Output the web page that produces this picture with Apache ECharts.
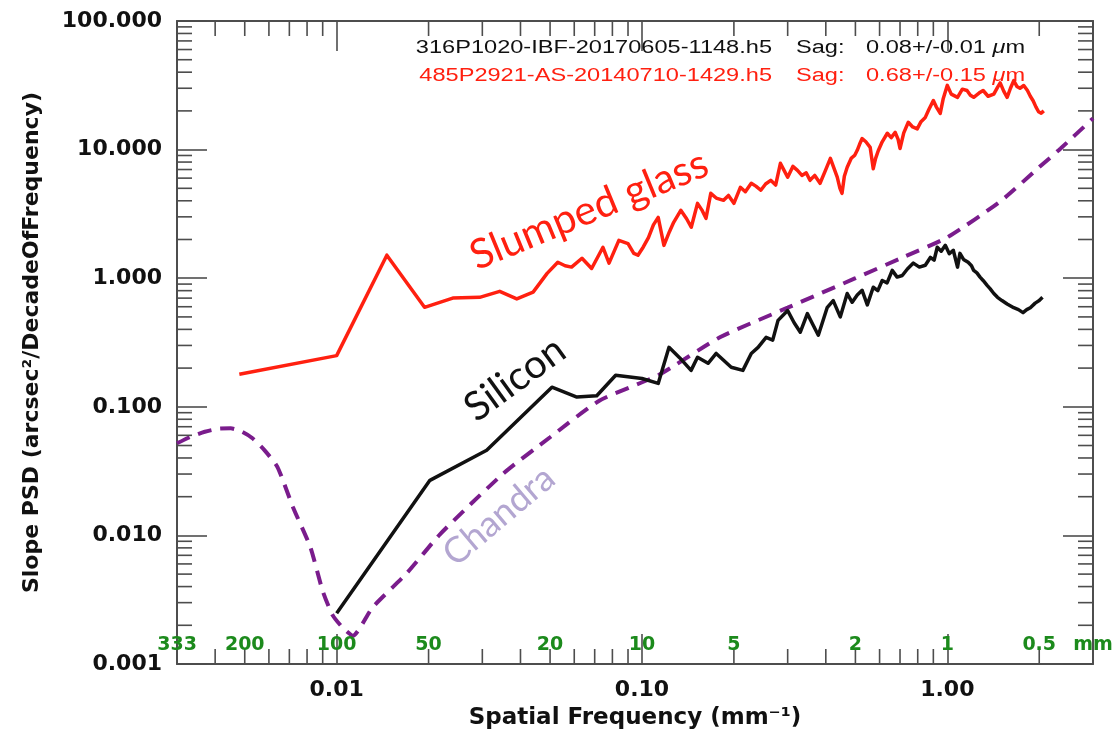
<!DOCTYPE html>
<html>
<head>
<meta charset="utf-8">
<title>Slope PSD vs Spatial Frequency</title>
<script src="https://cdn.jsdelivr.net/npm/echarts@6/dist/echarts.min.js"></script>
<style>
  html, body { margin: 0; padding: 0; background: #ffffff; }
  #chart { width: 1116px; height: 732px; }
</style>
</head>
<body>
<div id="chart"></div>
<script>
// Slope PSD curves: [spatial frequency (mm^-1), slope PSD (arcsec^2 / decade)]
const glassPsd = [
  [0.0048, 0.179], [0.0100, 0.25], [0.0146, 1.51], [0.0194, 0.594], [0.024, 0.70],
  [0.0294, 0.71], [0.0342, 0.79], [0.0389, 0.69], [0.044, 0.78], [0.0489, 1.09],
  [0.053, 1.33], [0.056, 1.25], [0.0588, 1.22], [0.0636, 1.43], [0.0684, 1.19],
  [0.0745, 1.74], [0.078, 1.31], [0.084, 1.97], [0.09, 1.86], [0.094, 1.56],
  [0.097, 1.51], [0.101, 1.75], [0.105, 2.07], [0.109, 2.6], [0.113, 2.97],
  [0.118, 1.8], [0.123, 2.3], [0.127, 2.72], [0.134, 3.37], [0.140, 2.9],
  [0.145, 2.49], [0.152, 3.82], [0.157, 3.4], [0.162, 2.92], [0.168, 4.57],
  [0.175, 4.2], [0.185, 4.03], [0.192, 4.4], [0.200, 3.82], [0.210, 5.09],
  [0.218, 4.7], [0.228, 5.47], [0.236, 5.2], [0.245, 4.83], [0.254, 5.4],
  [0.264, 5.77], [0.274, 5.3], [0.284, 7.82], [0.292, 6.9], [0.300, 6.1],
  [0.312, 7.4], [0.323, 6.9], [0.334, 6.3], [0.345, 6.6], [0.355, 5.77],
  [0.368, 6.3], [0.383, 5.47], [0.398, 6.8], [0.414, 8.55], [0.425, 7.2],
  [0.436, 6.1], [0.445, 5.0], [0.452, 4.57], [0.460, 6.2], [0.470, 7.28],
  [0.485, 8.6], [0.497, 9.0], [0.507, 9.88], [0.516, 11.0], [0.526, 12.2],
  [0.541, 11.5], [0.559, 10.4], [0.572, 7.1], [0.582, 8.5], [0.594, 9.8],
  [0.612, 11.5], [0.636, 13.4], [0.655, 12.4], [0.675, 13.6], [0.690, 12.0],
  [0.700, 10.2], [0.720, 13.5], [0.745, 16.3], [0.770, 15.0], [0.797, 14.5],
  [0.820, 16.5], [0.847, 17.8], [0.870, 20.5], [0.900, 24.1], [0.920, 21.5],
  [0.948, 19.1], [0.970, 25.0], [1.00, 31.6], [1.03, 27.0], [1.08, 25.5],
  [1.12, 29.5], [1.16, 28.8], [1.19, 26.5], [1.22, 25.5], [1.27, 27.5],
  [1.31, 28.8], [1.36, 26.0], [1.42, 27.0], [1.46, 30.5], [1.49, 33.0],
  [1.53, 28.5], [1.57, 25.5], [1.61, 30.0], [1.65, 34.4], [1.69, 31.0],
  [1.73, 30.0], [1.78, 31.5], [1.83, 28.8], [1.87, 26.0], [1.91, 24.0],
  [1.95, 21.5], [1.99, 19.7], [2.03, 19.2], [2.07, 20.0]
];

const siliconPsd = [
  [0.0100, 0.00248], [0.0202, 0.0268], [0.031, 0.0459], [0.0507, 0.142], [0.0612, 0.119],
  [0.0711, 0.122], [0.082, 0.176], [0.100, 0.166], [0.113, 0.152], [0.1226, 0.29],
  [0.133, 0.24], [0.1448, 0.192], [0.152, 0.243], [0.1646, 0.218], [0.175, 0.26],
  [0.196, 0.203], [0.214, 0.192], [0.228, 0.26], [0.240, 0.29], [0.255, 0.347],
  [0.268, 0.33], [0.279, 0.47], [0.300, 0.56], [0.315, 0.45], [0.330, 0.38],
  [0.348, 0.53], [0.362, 0.44], [0.378, 0.36], [0.404, 0.59], [0.423, 0.67],
  [0.446, 0.50], [0.470, 0.76], [0.488, 0.65], [0.507, 0.74], [0.526, 0.805],
  [0.547, 0.62], [0.572, 0.85], [0.592, 0.80], [0.612, 0.96], [0.635, 0.92],
  [0.660, 1.15], [0.685, 1.02], [0.712, 1.05], [0.740, 1.18], [0.774, 1.31],
  [0.810, 1.22], [0.847, 1.26], [0.880, 1.45], [0.905, 1.38], [0.927, 1.74],
  [0.955, 1.62], [0.985, 1.80], [1.015, 1.55], [1.046, 1.65], [1.080, 1.22],
  [1.100, 1.56], [1.130, 1.40], [1.170, 1.33], [1.200, 1.25], [1.220, 1.15],
  [1.250, 1.10], [1.280, 1.02], [1.310, 0.96], [1.350, 0.88], [1.380, 0.83],
  [1.420, 0.76], [1.460, 0.71], [1.510, 0.67], [1.570, 0.63], [1.650, 0.59],
  [1.710, 0.57], [1.770, 0.54], [1.820, 0.57], [1.870, 0.59], [1.940, 0.64],
  [2.000, 0.67], [2.050, 0.71]
];

const chandraPsd = [
  [0.0030, 0.052], [0.0033, 0.058], [0.0037, 0.064], [0.0041, 0.0675], [0.0045, 0.068],
  [0.0049, 0.064], [0.0053, 0.057], [0.0058, 0.046], [0.0064, 0.034], [0.0072, 0.0165],
  [0.0082, 0.0081], [0.0090, 0.0037], [0.0097, 0.0024], [0.0105, 0.0019], [0.0113, 0.00166],
  [0.0131, 0.00275], [0.0170, 0.0051], [0.0218, 0.0102], [0.035, 0.030], [0.050, 0.058],
  [0.0727, 0.112], [0.113, 0.176], [0.180, 0.347], [0.300, 0.59], [0.500, 1.00],
  [0.700, 1.42], [1.00, 2.08], [1.50, 4.0], [2.00, 7.3], [2.35, 10.2], [3.00, 17.5]
];

// Feature wavelength markers along the bottom axis (mm)
const wavelengthMm = [333, 200, 100, 50, 20, 10, 5, 2, 1, 0.5];
const wavelengthText = ['333', '200', '100', '50', '20', '10', '5', '2', '1', '0.5'];

// Measurement files and sag values
const sampleFiles = ['316P1020-IBF-20170605-1148.h5', '485P2921-AS-20140710-1429.h5'];
const sagValues = ['0.08+/-0.01', '0.68+/-0.15'];
const curveNames = ['Slumped glass', 'Silicon', 'Chandra'];

const X_MIN = 0.003, X_MAX = 3;
const Y_MIN = 0.001, Y_MAX = 100;

const AXIS_COLOR = '#4d4d4d';
const RED = '#ff2010';
const BLACK = '#111111';
const PURPLE = '#7a1c8c';
const LAVENDER = '#b3a6d1';
const GREEN = '#1c8a1c';
const MINOR_LEN = 15;

// 2..9 x 10^k minor tick values strictly inside (lo, hi)
function minorTickValues(lo, hi) {
  const out = [];
  for (let e = Math.floor(Math.log10(lo)); e <= Math.ceil(Math.log10(hi)); e++) {
    for (let m = 2; m <= 9; m++) {
      const v = m * Math.pow(10, e);
      if (v > lo * 1.0001 && v < hi * 0.9999) out.push(v);
    }
  }
  return out;
}
const xMinor = minorTickValues(X_MIN, X_MAX);
const yMinor = minorTickValues(Y_MIN, Y_MAX);

const tickFont = { fontFamily: 'DejaVu Sans', fontWeight: 'bold', color: BLACK };

function frameAxis(extra) {
  return Object.assign({
    type: 'log',
    logBase: 10,
    axisLine: { onZero: false, lineStyle: { color: AXIS_COLOR, width: 2 } },
    axisTick: { inside: true, length: 30, lineStyle: { color: AXIS_COLOR, width: 1.6 } },
    minorTick: { show: false },
    splitLine: { show: false }
  }, extra);
}

function xMinorTick(params, api) {
  const cs = params.coordSys;
  const x = api.coord([api.value(0), 1])[0];
  const bottom = cs.y + cs.height;
  const st = { stroke: AXIS_COLOR, lineWidth: 1.6 };
  return {
    type: 'group',
    children: [
      { type: 'line', shape: { x1: x, y1: bottom, x2: x, y2: bottom - MINOR_LEN }, style: st },
      { type: 'line', shape: { x1: x, y1: cs.y, x2: x, y2: cs.y + MINOR_LEN }, style: st }
    ]
  };
}

function yMinorTick(params, api) {
  const cs = params.coordSys;
  const y = api.coord([1, api.value(1)])[1];
  const right = cs.x + cs.width;
  const st = { stroke: AXIS_COLOR, lineWidth: 1.6 };
  return {
    type: 'group',
    children: [
      { type: 'line', shape: { x1: cs.x, y1: y, x2: cs.x + MINOR_LEN, y2: y }, style: st },
      { type: 'line', shape: { x1: right, y1: y, x2: right - MINOR_LEN, y2: y }, style: st }
    ]
  };
}

function wavelengthLabel(params, api) {
  const cs = params.coordSys;
  const x = api.coord([api.value(0), 1])[0];
  const y = cs.y + cs.height - 19;
  const textStyle = {
    align: 'center', verticalAlign: 'middle', fill: GREEN,
    fontSize: 19, fontWeight: 'bold', fontFamily: 'DejaVu Sans'
  };
  const children = [
    { type: 'text', x: x, y: y, style: Object.assign({ text: wavelengthText[params.dataIndex] }, textStyle) }
  ];
  if (params.dataIndex === wavelengthMm.length - 1) {
    children.push({ type: 'text', x: cs.x + cs.width, y: y, style: Object.assign({ text: 'mm' }, textStyle) });
  }
  return { type: 'group', children: children };
}

const legendFont = { fontSize: 18, fontFamily: 'Liberation Sans' };
function legendRow(i, y, color) {
  const base = Object.assign({ fill: color, verticalAlign: 'middle' }, legendFont);
  return [
    { type: 'text', x: 772, y: y, scaleX: 1.31, z: 10,
      style: Object.assign({ text: sampleFiles[i], align: 'right' }, base) },
    { type: 'text', x: 796, y: y, scaleX: 1.31, z: 10,
      style: Object.assign({ text: 'Sag:', align: 'left' }, base) },
    { type: 'text', x: 866, y: y, scaleX: 1.31, z: 10,
      style: Object.assign({
        text: sagValues[i] + ' {mu|\u03bc}m', align: 'left',
        rich: { mu: Object.assign({ fill: color, fontStyle: 'italic' }, legendFont) }
      }, base) }
  ];
}

const deg = Math.PI / 180;
const annotFont = { fontFamily: 'Lato', align: 'center', verticalAlign: 'middle' };

const option = {
  animation: false,
  backgroundColor: '#ffffff',
  grid: { left: 177, right: 23, top: 21, bottom: 68, containLabel: false, outerBoundsMode: 'none' },
  xAxis: [
    frameAxis({
      min: X_MIN, max: X_MAX, position: 'bottom',
      axisLabel: Object.assign({
        fontSize: 22, margin: 15, showMinLabel: false, showMaxLabel: false,
        formatter: v => Number(v).toFixed(2)
      }, tickFont),
      name: 'Spatial Frequency (mm\u207b\u00b9)',
      nameLocation: 'middle', nameGap: 43,
      nameTextStyle: { fontFamily: 'DejaVu Sans', fontWeight: 'bold', fontSize: 23, color: BLACK }
    }),
    frameAxis({ min: X_MIN, max: X_MAX, position: 'top', axisLabel: { show: false } })
  ],
  yAxis: [
    frameAxis({
      min: Y_MIN, max: Y_MAX, position: 'left',
      axisLabel: Object.assign({
        fontSize: 22, margin: 15,
        formatter: v => Number(v).toFixed(3)
      }, tickFont),
      name: 'Slope PSD (arcsec\u00b2/DecadeOfFrequency)',
      nameLocation: 'middle', nameGap: 134,
      nameTextStyle: { fontFamily: 'DejaVu Sans', fontWeight: 'bold', fontSize: 22, color: BLACK }
    }),
    frameAxis({ min: Y_MIN, max: Y_MAX, position: 'right', axisLabel: { show: false } })
  ],
  series: [
    {
      name: curveNames[2], type: 'line', data: chandraPsd, symbol: 'none', z: 3,
      smooth: 0.2,
      lineStyle: { color: PURPLE, width: 4, type: [14, 9] }
    },
    {
      name: curveNames[1], type: 'line', data: siliconPsd, symbol: 'none', z: 4,
      lineStyle: { color: BLACK, width: 3.5, join: 'round' }
    },
    {
      name: curveNames[0], type: 'line', data: glassPsd, symbol: 'none', z: 5,
      lineStyle: { color: RED, width: 3.5, join: 'round' }
    },
    {
      type: 'custom', silent: true, z: 6, renderItem: xMinorTick,
      data: xMinor.map(v => [v, 1])
    },
    {
      type: 'custom', silent: true, z: 6, renderItem: yMinorTick,
      data: yMinor.map(v => [1, v])
    },
    {
      type: 'custom', silent: true, z: 7, renderItem: wavelengthLabel,
      data: wavelengthMm.map(w => [1 / w, 1])
    }
  ],
  graphic: [
    ...legendRow(0, 48, BLACK),
    ...legendRow(1, 76, RED),
    { type: 'text', x: 589, y: 210, rotation: 22.4 * deg, z: 10,
      style: Object.assign({ text: curveNames[0], fill: RED, fontSize: 41 }, annotFont) },
    { type: 'text', x: 515, y: 379, rotation: 36 * deg, z: 10,
      style: Object.assign({ text: curveNames[1], fill: BLACK, fontSize: 40 }, annotFont) },
    { type: 'text', x: 499, y: 516, rotation: 40 * deg, z: 10,
      style: Object.assign({ text: curveNames[2], fill: LAVENDER, fontSize: 36 }, annotFont) }
  ]
};

const chart = echarts.init(document.getElementById('chart'), null, { renderer: 'canvas' });
chart.setOption(option);
</script>
</body>
</html>
